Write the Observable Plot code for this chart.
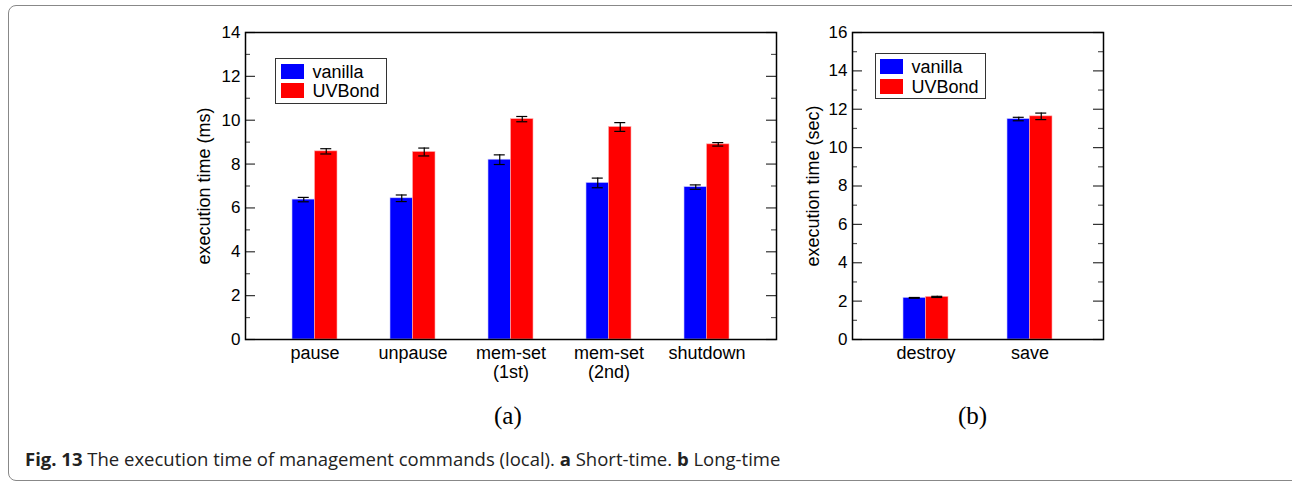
<!DOCTYPE html>
<html>
<head>
<meta charset="utf-8">
<script src="https://cdn.jsdelivr.net/npm/d3@7"></script>
<script src="https://cdn.jsdelivr.net/npm/@observablehq/plot@0.6"></script>
<style>
  html, body { margin: 0; padding: 0; background: #fff; width: 1292px; height: 484px; overflow: hidden; }
  #wrap { position: relative; width: 1292px; height: 484px; font-family: "Liberation Sans", Arial, sans-serif; }
  #box { position: absolute; left: 8px; top: 5px; width: 1300px; height: 474px; border: 1.5px solid #888; border-radius: 8px; }
  .plot { position: absolute; top: 0; }
  .legend { position: absolute; border: 1.5px solid #333; background: #fff; box-sizing: border-box; }
  .legend .sw { position: absolute; width: 23px; height: 15px; }
  .legend .lab { position: absolute; font-size: 18px; line-height: 15px; white-space: nowrap; color: #000; }
  .sub { position: absolute; font-family: "Liberation Serif", "DejaVu Serif", serif; font-size: 25px; color: #000; }
  #caption { position: absolute; left: 25px; top: 449px; font-family: "Open Sans", sans-serif; font-size: 18.5px; line-height: 20px; color: #222; white-space: nowrap; }
</style>
</head>
<body>
<div id="wrap">
  <div id="box"></div>
  <div id="plotA" class="plot" style="left:0px"></div>
  <div id="plotB" class="plot" style="left:790px"></div>
  <div id="legA" class="legend" style="left:275px; top:58px; width:112px; height:46px;"></div>
  <div id="legB" class="legend" style="left:875px; top:53px; width:111px; height:46px;"></div>
  <div class="sub" style="left:494px; top:402px;">(a)</div>
  <div class="sub" style="left:958px; top:402px;">(b)</div>
  <div id="caption"><b>Fig. 13</b> The execution time of management commands (local). <b>a</b> Short-time. <b>b</b> Long-time</div>
</div>
<script>
// ---- Data ----
const seriesNames = ["vanilla", "UVBond"];
const seriesColors = ["#0000ff", "#ff0000"];

// Panel (a): short-time commands (ms)
const catsA = ["pause", "unpause", "mem-set (1st)", "mem-set (2nd)", "shutdown"];
const tickLabelsA = ["pause", "unpause", "mem-set\n(1st)", "mem-set\n(2nd)", "shutdown"];
const vanillaA = [6.38, 6.44, 8.20, 7.14, 6.95];
const vanillaErrA = [0.10, 0.15, 0.22, 0.22, 0.10];
const uvbondA = [8.58, 8.55, 10.05, 9.69, 8.90];
const uvbondErrA = [0.12, 0.18, 0.12, 0.20, 0.08];
const yTicksA = [0, 2, 4, 6, 8, 10, 12, 14];
const yMinorA = [1, 3, 5, 7, 9, 11, 13];

// Panel (b): long-time commands (sec)
const catsB = ["destroy", "save"];
const tickLabelsB = ["destroy", "save"];
const vanillaB = [2.17, 11.49];
const vanillaErrB = [0.02, 0.09];
const uvbondB = [2.22, 11.63];
const uvbondErrB = [0.03, 0.17];
const yTicksB = [0, 2, 4, 6, 8, 10, 12, 14, 16];
const yMinorB = [1, 3, 5, 7, 9, 11, 13, 15];

function rows(cats, vals, errs) {
  return cats.map((c, i) => ({cat: c, v: vals[i], e: errs[i]}));
}

function makePanel({cats, tickLabels, van, vanErr, uvb, uvbErr, yMax, yTicks, yMinor, yLabel,
                    width, height, mL, mR, mT, mB, pInner, pOuter, bw, labelDx}) {
  const innerW = width - mL - mR;
  const dv = rows(cats, van, vanErr);
  const du = rows(cats, uvb, uvbErr);
  const half = bw / 2;
  const cap = 11;
  const cV = bw / 4, cU = 3 * bw / 4;
  const fmt = d => tickLabels[cats.indexOf(d)];
  return Plot.plot({
    width, height,
    marginLeft: mL, marginRight: mR, marginTop: mT, marginBottom: mB,
    style: {fontFamily: "Liberation Sans, Arial, sans-serif", color: "#000", background: "transparent", overflow: "visible"},
    x: {type: "band", domain: cats, paddingInner: pInner, paddingOuter: pOuter, axis: null},
    y: {domain: [0, yMax], axis: null},
    marks: [
      Plot.barY(dv, {x: "cat", y: "v", fill: seriesColors[0], insetRight: half, insetLeft: 0, stroke: "#c8c8ff", strokeWidth: 0.6}),
      Plot.barY(du, {x: "cat", y: "v", fill: seriesColors[1], insetLeft: half, insetRight: 0, stroke: "#ffb0b0", strokeWidth: 0.6}),
      // error bars
      Plot.ruleX(dv, {x: "cat", y1: d => d.v - d.e, y2: d => d.v + d.e, dx: -bw / 4, stroke: "#000", strokeWidth: 1.2}),
      Plot.ruleX(du, {x: "cat", y1: d => d.v - d.e, y2: d => d.v + d.e, dx: bw / 4, stroke: "#000", strokeWidth: 1.2}),
      Plot.tickY(dv, {x: "cat", y: d => d.v + d.e, insetLeft: cV - cap / 2, insetRight: bw - cV - cap / 2, stroke: "#000", strokeWidth: 1.2}),
      Plot.tickY(dv, {x: "cat", y: d => d.v - d.e, insetLeft: cV - cap / 2, insetRight: bw - cV - cap / 2, stroke: "#000", strokeWidth: 1.2}),
      Plot.tickY(du, {x: "cat", y: d => d.v + d.e, insetLeft: cU - cap / 2, insetRight: bw - cU - cap / 2, stroke: "#000", strokeWidth: 1.2}),
      Plot.tickY(du, {x: "cat", y: d => d.v - d.e, insetLeft: cU - cap / 2, insetRight: bw - cU - cap / 2, stroke: "#000", strokeWidth: 1.2}),
      // inward ticks on both sides
      Plot.ruleY(yTicks, {y: d => d, insetRight: innerW - 10, stroke: "#333", strokeWidth: 1.2}),
      Plot.ruleY(yTicks, {y: d => d, insetLeft: innerW - 10, stroke: "#333", strokeWidth: 1.2}),
      Plot.ruleY(yMinor, {y: d => d, insetRight: innerW - 5, stroke: "#555", strokeWidth: 1.2}),
      Plot.ruleY(yMinor, {y: d => d, insetLeft: innerW - 5, stroke: "#555", strokeWidth: 1.2}),
      Plot.axisY({ticks: yTicks, tickSize: 0, tickPadding: 5, fontSize: 17, label: null}),
      Plot.axisX({tickSize: 0, tickPadding: 5, fontSize: 18, lineHeight: 1.1, tickFormat: fmt, label: null}),
      Plot.text([yLabel], {frameAnchor: "left", textAnchor: "middle", lineAnchor: "middle", rotate: -90, dx: labelDx, fontSize: 18, fill: "#000"}),
      Plot.frame({stroke: "#000", strokeWidth: 1.5})
    ]
  });
}

document.getElementById("plotA").append(makePanel({
  cats: catsA, tickLabels: tickLabelsA, van: vanillaA, vanErr: vanillaErrA, uvb: uvbondA, uvbErr: uvbondErrA,
  yMax: 14, yTicks: yTicksA, yMinor: yMinorA, yLabel: "execution time (ms)",
  width: 790, height: 390, mL: 245, mR: 14, mT: 32, mB: 51,
  pInner: 0.543, pOuter: 0.467, bw: 45, labelDx: -41
}));

document.getElementById("plotB").append(makePanel({
  cats: catsB, tickLabels: tickLabelsB, van: vanillaB, vanErr: vanillaErrB, uvb: uvbondB, uvbErr: uvbondErrB,
  yMax: 16, yTicks: yTicksB, yMinor: yMinorB, yLabel: "execution time (sec)",
  width: 320, height: 390, mL: 62, mR: 7, mT: 32, mB: 51,
  pInner: 0.570, pOuter: 0.484, bw: 45, labelDx: -39
}));

function legend(id, swLeft, swTops, textLeft) {
  const el = document.getElementById(id);
  seriesNames.forEach((n, i) => {
    const sw = document.createElement("div");
    sw.className = "sw";
    sw.style.left = swLeft + "px"; sw.style.top = swTops[i] + "px";
    sw.style.background = seriesColors[i];
    el.append(sw);
    const lab = document.createElement("div");
    lab.className = "lab";
    lab.style.left = textLeft + "px"; lab.style.top = (swTops[i] + 1) + "px";
    lab.textContent = n;
    el.append(lab);
  });
}
legend("legA", 4.5, [4.5, 23.5], 36.5);
legend("legB", 3.5, [4.5, 24.5], 35.5);
</script>
</body>
</html>
